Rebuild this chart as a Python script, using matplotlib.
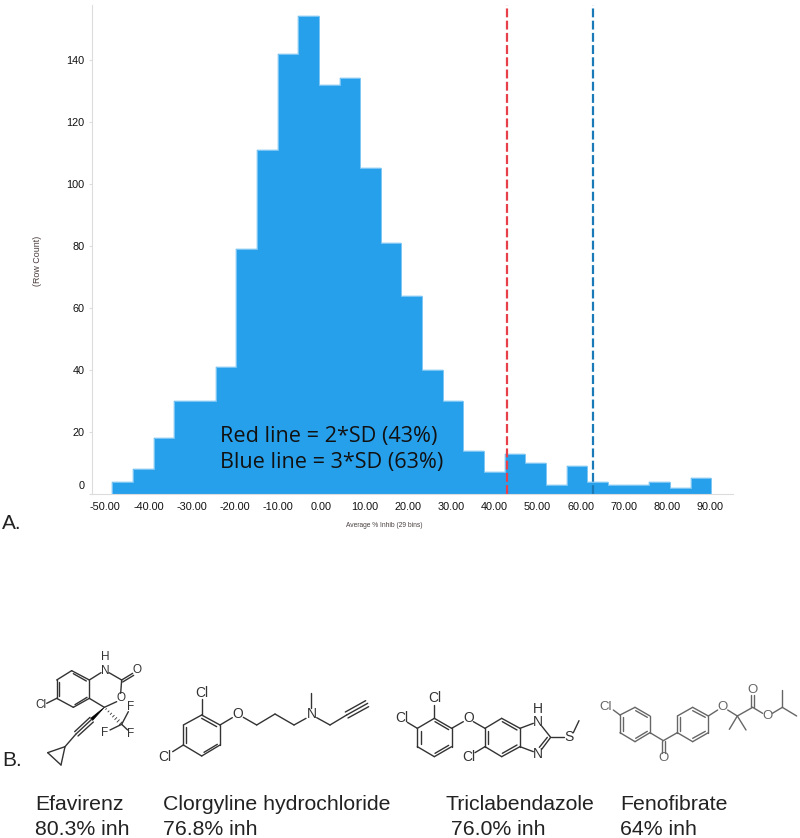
import numpy as np
import matplotlib
matplotlib.use("Agg")
import matplotlib.pyplot as plt
from matplotlib.transforms import ScaledTranslation

# histogram values
bin_lo = -48.4
bin_hi = 90.3
counts = [4, 8, 18, 30, 30, 41, 79, 111, 142, 154, 132, 134, 105, 81, 64,
          40, 30, 14, 7, 13, 10, 3, 9, 4, 3, 3, 4, 2, 5]
xtick_vals = [-50, -40, -30, -20, -10, 0, 10, 20, 30, 40, 50, 60, 70, 80, 90]
ytick_vals = [0, 20, 40, 60, 80, 100, 120, 140]
red_sd = 43
blue_sd = 63

names = ["Efavirenz", "Clorgyline hydrochloride", "Triclabendazole", "Fenofibrate"]
inhib = ["80.3% inh", "76.8% inh", " 76.0% inh", "64% inh"]

# structures, in pixels of a 3x crop (bonds are x1, y1, x2, y2)
efa_bonds = [
    (170, 150, 215, 122), (215, 122, 268, 150), (268, 150, 268, 205), (268, 205, 220, 232),
    (220, 232, 170, 205), (170, 205, 170, 150), (178, 157, 178, 198), (220, 131, 259, 153),
    (225, 224, 261, 202), (268, 150, 303, 128), (327, 128, 365, 150), (365, 150, 398, 130),
    (368, 156, 401, 136), (365, 150, 362, 190), (350, 215, 313, 232), (313, 232, 268, 205),
    (170, 205, 140, 220), (275, 268, 228, 312), (280, 276, 234, 318), (270, 262, 224, 305),
    (228, 312, 195, 350), (195, 350, 143, 368), (143, 368, 183, 405), (183, 405, 195, 350),
    (365, 283, 385, 245), (365, 283, 330, 300), (365, 283, 383, 300),
]
efa_labels = [("N", 315, 122), ("H", 315, 82), ("O", 410, 120), ("O", 362, 205), ("Cl", 122, 226),
              ("F", 392, 232), ("F", 315, 310), ("F", 392, 312)]
efa_wedge = (313, 232, 275, 268)
efa_hash = (313, 232, 365, 283)

clo_bonds = [
    (605, 255, 660, 285), (660, 285, 660, 345), (660, 345, 605, 378), (605, 378, 550, 345),
    (550, 345, 550, 285), (550, 285, 605, 255), (558, 292, 558, 338), (605, 265, 650, 290),
    (612, 367, 652, 343), (605, 255, 605, 208), (550, 345, 518, 365), (660, 285, 697, 263),
    (730, 262, 770, 285), (770, 285, 825, 252), (825, 252, 882, 285), (882, 285, 918, 265),
    (933, 235, 933, 188), (950, 263, 990, 285), (990, 285, 1040, 255), (1040, 255, 1103, 220),
    (1036, 246, 1097, 212), (1044, 264, 1106, 230),
]
clo_labels = [("Cl", 605, 188), ("Cl", 493, 380), ("O", 713, 253), ("N", 935, 253)]

tri_bonds = [
    (103, 265, 155, 295), (155, 295, 155, 350), (155, 350, 103, 380), (103, 380, 52, 350),
    (52, 350, 52, 295), (52, 295, 103, 265), (62, 302, 62, 343), (105, 370, 146, 346),
    (105, 275, 146, 299), (103, 265, 103, 225), (52, 295, 22, 277), (155, 295, 190, 275),
    (220, 275, 255, 295), (255, 295, 305, 265), (305, 265, 360, 295), (360, 295, 360, 350),
    (360, 350, 305, 380), (305, 380, 255, 350), (255, 350, 255, 295), (264, 302, 264, 343),
    (307, 275, 351, 300), (307, 370, 351, 345), (255, 350, 225, 368), (360, 295, 400, 280),
    (360, 350, 400, 365), (425, 288, 452, 322), (452, 322, 425, 358), (442, 322, 418, 352),
    (452, 322, 492, 322), (520, 308, 537, 272),
]
tri_labels = [("Cl", 103, 205), ("Cl", 5, 265), ("O", 205, 265), ("Cl", 205, 382), ("N", 415, 275),
              ("H", 415, 238), ("N", 415, 372), ("S", 508, 322)]

fen_bonds = [
    (640, 240, 660, 255), (660, 255, 705, 232), (705, 232, 750, 258), (750, 258, 750, 308),
    (750, 308, 705, 335), (705, 335, 660, 308), (660, 308, 660, 255), (668, 262, 668, 302),
    (707, 242, 742, 262), (707, 325, 742, 304), (750, 308, 790, 332), (790, 332, 832, 308),
    (786, 332, 786, 368), (794, 332, 794, 368), (832, 258, 878, 232), (878, 232, 925, 258),
    (925, 258, 925, 308), (925, 308, 878, 335), (878, 335, 832, 308), (832, 308, 832, 258),
    (840, 262, 840, 302), (878, 242, 916, 262), (878, 325, 916, 304), (925, 258, 953, 240),
    (983, 240, 1012, 258), (1012, 258, 988, 298), (1012, 258, 1038, 300), (1012, 258, 1058, 232),
    (1054, 232, 1054, 195), (1062, 232, 1062, 195), (1058, 232, 1088, 250), (1117, 250, 1147, 232),
    (1147, 232, 1147, 180), (1147, 232, 1190, 258),
]
fen_labels = [("Cl", 617, 232), ("O", 790, 385), ("O", 968, 232), ("O", 1058, 180), ("O", 1102, 258)]

tick_font = "Liberation Sans"
W, H = 800, 838


def to_ax(px_left, px_right, px_top, px_bottom):
    return [px_left / W, 1 - px_bottom / H, (px_right - px_left) / W, (px_bottom - px_top) / H]


def draw_mol(ax, bonds, labels, ox, oy, color, lw=1.0, size=10):
    for x1, y1, x2, y2 in bonds:
        ax.plot([ox + x1 / 3, ox + x2 / 3], [oy + y1 / 3, oy + y2 / 3], color=color, lw=lw,
                solid_capstyle="round")
    for txt, x, y in labels:
        ax.text(ox + x / 3, oy + y / 3, txt, ha="center", va="center", color=color,
                fontsize=size, family="Liberation Sans")


fig = plt.figure(figsize=(8, 8.38), dpi=100)

# histogram
ax = fig.add_axes(to_ax(91.5, 733, 5, 494))
edges = np.linspace(bin_lo, bin_hi, len(counts) + 1)
ax.bar(edges[:-1], counts, width=np.diff(edges), align="edge", color="#27a0ec",
       edgecolor="#27a0ec", linewidth=0.3)
ax.stairs(counts, edges, color="#7cc6f4", linewidth=0.7)
ax.axvline(red_sd, color="#e8404a", linestyle=(0, (4, 1.5)), linewidth=1.6)
ax.axvline(blue_sd, color="#1a7ab8", linestyle=(0, (4, 1.5)), linewidth=1.6)
ax.set_xlim(-53.2, 95.3)
ax.set_ylim(0, 157.7)
for side in ["top", "right"]:
    ax.spines[side].set_visible(False)
for side in ["left", "bottom"]:
    ax.spines[side].set_color("#dcdcdc")
ax.set_xticks(xtick_vals)
ax.set_xticklabels([f"{v:.2f}" for v in xtick_vals], family=tick_font, fontsize=7.8, color="#111111")
ax.set_yticks(ytick_vals)
ax.set_yticklabels([str(v) for v in ytick_vals], family=tick_font, fontsize=7.8, color="#111111")
ax.tick_params(axis="both", length=2, color="#dcdcdc", pad=3)
ax.tick_params(axis="x", length=0, pad=6)
# the zero label sits above its tick in the original
zero_lab = ax.get_yticklabels()[0]
zero_lab.set_transform(zero_lab.get_transform() + ScaledTranslation(0, 9 / 100, fig.dpi_scale_trans))

# overlay in pixel coordinates for all annotation and structures
ov = fig.add_axes([0, 0, 1, 1], facecolor="none")
ov.set_xlim(0, W)
ov.set_ylim(H, 0)
ov.axis("off")

ov.text(220, 436, "Red line = 2*SD (43%)", fontsize=15.6, family="Open Sans", va="center", color="#111111")
ov.text(220, 462, "Blue line = 3*SD (63%)", fontsize=15.6, family="Open Sans", va="center", color="#111111")
ov.text(38, 261, "(Row Count)", fontsize=6.4, rotation=90, ha="center", va="center", color="#4a3a3a",
        family="Liberation Sans")
ov.text(384, 525, "Average % Inhib (29 bins)", fontsize=4.8, ha="center", va="center", color="#4a4040",
        family=tick_font)
ov.text(2, 523, "A.", fontsize=15, va="center", family="Liberation Sans", color="#222222")
ov.text(2, 760, "B.", fontsize=15, va="center", family="Liberation Sans", color="#222222")

draw_mol(ov, efa_bonds, efa_labels, 0, 630, "#333333", size=8.5)
draw_mol(ov, clo_bonds, clo_labels, 0, 630, "#333333")
draw_mol(ov, tri_bonds, tri_labels, 400, 630, "#333333")
draw_mol(ov, fen_bonds, fen_labels, 400, 630, "#666666", size=9.5)

# stereo bonds of efavirenz
x1, y1, x2, y2 = efa_wedge
ov.fill([x1 / 3, x2 / 3 - 1, x2 / 3 + 1], [630 + y1 / 3, 630 + y2 / 3 - 1, 630 + y2 / 3 + 1], color="black", lw=0.5)
x1, y1, x2, y2 = efa_hash
for f in np.arange(0.1, 1.0, 0.14):
    cx, cy = (x1 + (x2 - x1) * f) / 3, 630 + (y1 + (y2 - y1) * f) / 3
    d = 0.3 + 1.6 * f
    ov.plot([cx - d * 0.7, cx + d * 0.7], [cy + d * 0.7, cy - d * 0.7], color="#333333", lw=0.6)

name_x = [35, 163, 445, 620]
for nm, val, nx in zip(names, inhib, name_x):
    ov.text(nx, 804, nm, fontsize=15.3, family="Liberation Sans", va="center", color="#222222")
    ov.text(nx, 829, val, fontsize=15.3, family="Liberation Sans", va="center", color="#222222")

fig.savefig("out.png", dpi=100)
